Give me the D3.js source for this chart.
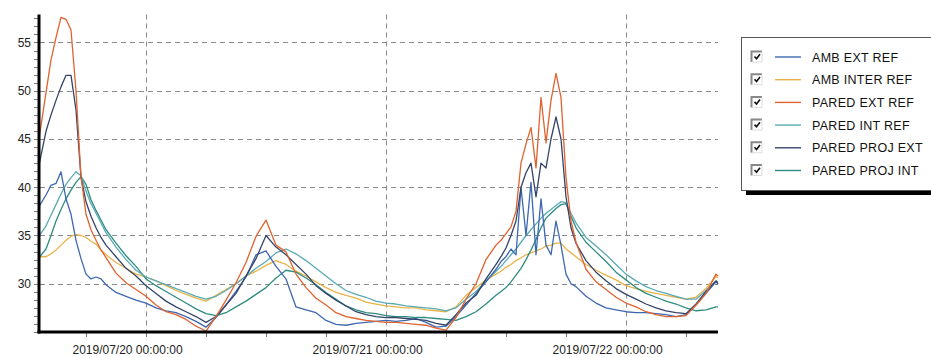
<!DOCTYPE html>
<html><head><meta charset="utf-8">
<script src="https://cdn.jsdelivr.net/npm/d3@7"></script>
<style>
body{margin:0;background:#fff}
svg{display:block}
text{font-family:"Liberation Sans",Arial,sans-serif}
</style>
</head><body>
<svg id="chart" width="931" height="358"></svg>
<script>
// ---- data (hours relative to 2019/07/20 00:00:00) ----
const baseDate = new Date(2019, 6, 20, 0, 0, 0);
const hours = [-10.7,-10,-9.5,-9,-8.5,-8,-7.5,-7,-6.5,-6,-5.5,-5,-4.5,-4,
  -3,-2,-1,0,1,2,3,4,5,6,7,8,9,10,11,12,13,14,15,16,17,18,19,20,21,22,23,24,25,26,27,28,29,30,31,32,33,34,35,
  35.5,36,36.5,37,37.5,38,38.5,39,39.5,40,40.5,41,41.5,42,42.5,43,
  44,45,46,47,48,49,50,51,52,53,54,55,56,57,57.2];

const seriesNames = ["AMB EXT REF","AMB INTER REF","PARED EXT REF","PARED INT REF","PARED PROJ EXT","PARED PROJ INT"];
const seriesColors = ["#3d68b0","#e8b44a","#e0622f","#5aaab4","#34446a","#2e8c80"];

const ambExtRef = [38.0,39.2,40.2,40.4,41.6,38.8,37.2,34.5,32.6,31.0,30.5,30.7,30.5,29.9,
  29.1,28.7,28.3,28.0,27.5,27.2,27.0,26.6,26.1,25.5,26.5,27.8,29.2,30.7,33.0,33.4,31.8,30.5,27.6,27.3,27.0,26.2,25.8,25.7,25.9,26.0,26.1,26.2,26.1,26.2,26.4,26.0,25.5,25.6,26.6,27.8,29.0,30.2,31.5,
  32.3,32.8,33.6,33.0,40.0,35.0,40.5,33.0,38.8,34.0,33.0,36.5,34.0,31.0,30.0,29.7,
  28.7,28.0,27.5,27.3,27.1,27.0,27.0,26.9,26.8,26.6,26.8,27.8,29.0,30.2,30.0];

const ambInterRef = [32.8,32.8,33.1,33.5,34.0,34.5,34.9,35.1,35.0,34.8,34.4,34.1,33.5,33.0,
  32.2,31.6,31.0,30.7,30.3,29.8,29.3,28.9,28.5,28.2,28.8,29.4,30.0,30.8,31.3,31.9,32.4,32.0,31.3,30.8,30.2,29.6,29.1,28.8,28.5,28.1,27.9,27.7,27.6,27.5,27.5,27.3,27.2,27.1,27.6,28.8,29.6,30.4,31.0,
  31.3,31.7,32.0,32.4,32.7,33.0,33.2,33.4,33.6,33.9,34.0,34.2,34.2,33.6,33.2,32.8,
  32.0,31.4,30.9,30.4,29.8,29.5,29.2,29.0,28.8,28.6,28.4,28.6,29.5,30.8,30.6];

const paredExtRef = [45.0,49.8,53.2,55.5,57.6,57.4,56.3,50.0,41.1,37.2,35.6,34.5,33.5,32.7,
  31.1,30.1,29.4,28.7,27.8,27.1,26.8,26.3,25.6,25.1,26.6,28.3,30.1,32.2,34.9,36.6,34.0,33.3,31.0,29.6,28.5,27.8,27.0,26.6,26.4,26.2,26.1,26.0,26.0,25.9,25.8,25.7,25.4,25.2,26.5,28.4,30.0,32.5,34.0,
  34.5,35.2,35.9,37.5,42.5,44.5,46.2,42.0,49.3,44.6,49.0,51.8,49.3,41.0,36.5,34.3,
  31.5,30.2,29.4,28.6,28.0,27.6,27.1,26.8,26.6,26.6,26.7,27.8,29.0,31.0,30.8];

const paredIntRef = [34.9,36.0,37.1,38.2,39.3,40.3,41.0,41.6,41.2,39.6,38.3,37.3,36.3,35.3,
  33.8,32.5,31.4,30.7,30.3,29.9,29.5,29.1,28.7,28.4,28.7,29.3,30.0,30.8,31.6,32.3,33.2,33.6,33.1,32.4,31.6,30.8,30.0,29.3,28.9,28.6,28.2,28.0,27.9,27.7,27.6,27.5,27.4,27.2,27.5,28.4,29.2,30.3,31.3,
  31.8,32.4,33.0,33.6,34.3,35.0,35.6,36.2,36.8,37.3,37.7,38.1,38.5,38.4,37.3,36.3,
  34.8,33.9,33.0,32.0,31.0,30.3,29.7,29.3,29.0,28.7,28.4,28.4,29.3,30.3,30.2];

const paredProjExt = [42.3,45.8,47.5,49.0,50.4,51.6,51.6,48.0,41.0,38.5,37.0,35.8,34.8,34.0,
  32.8,31.6,30.8,29.8,29.0,28.2,27.6,27.1,26.6,26.0,26.6,27.8,29.0,30.8,32.6,35.0,33.8,33.0,32.0,31.0,29.8,29.0,28.3,27.7,27.1,26.8,26.6,26.5,26.5,26.4,26.3,26.2,25.9,25.7,26.8,28.0,28.8,30.5,32.0,
  32.8,33.7,35.0,36.5,40.0,41.5,42.5,39.0,42.5,42.0,45.0,47.3,45.0,39.0,35.8,34.2,
  32.4,31.2,30.3,29.5,28.9,28.4,27.9,27.5,27.2,27.0,26.9,27.9,29.2,30.3,30.0];

const paredProjInt = [32.7,33.6,35.0,36.5,37.7,38.8,39.7,40.5,41.1,40.3,38.7,37.6,36.6,35.6,
  34.2,32.9,31.8,30.5,29.8,29.2,28.6,28.0,27.4,26.9,26.7,27.0,27.6,28.2,28.9,29.6,30.6,31.4,31.2,30.6,29.9,29.1,28.4,27.7,27.3,27.0,26.9,26.7,26.6,26.6,26.5,26.5,26.4,26.3,26.2,26.6,27.1,27.9,28.8,
  29.2,29.6,30.2,30.9,31.6,32.5,33.5,34.6,35.8,36.8,37.3,37.8,38.2,38.3,37.0,35.8,
  34.3,33.3,32.3,31.2,30.4,29.6,29.0,28.6,28.2,27.9,27.5,27.2,27.3,27.6,27.6];

const yTickValues = [30,35,40,45,50,55];
const xTickLabels = ["2019/07/20 00:00:00","2019/07/21 00:00:00","2019/07/22 00:00:00"];
const xTickHours = [0,24,48];

// ---- drawing ----
const seriesValues = [ambExtRef, ambInterRef, paredExtRef, paredIntRef, paredProjExt, paredProjInt];
const toDate = h => new Date(baseDate.getTime() + h * 3600000);

const svg = d3.select("#chart");
const plotL = 39, plotR = 718, plotT = 14.5, plotB = 332;

const x = d3.scaleTime().domain([toDate(-10.7), toDate(57.2)]).range([plotL, plotR]);
const y = d3.scaleLinear().domain([25, 57.9]).range([plotB, plotT]);

const grid = svg.append("g").attr("stroke", "#8a8a8a").attr("stroke-width", 1).attr("stroke-dasharray", "5,4");
yTickValues.forEach(v => {
  grid.append("line").attr("x1", plotL + 1).attr("x2", plotR).attr("y1", Math.round(y(v)) + 0.5).attr("y2", Math.round(y(v)) + 0.5);
});
xTickHours.forEach(h => {
  const px = Math.round(x(toDate(h))) + 0.5;
  grid.append("line").attr("x1", px).attr("x2", px).attr("y1", plotT).attr("y2", plotB - 1);
});

// series
const drawOrder = [1, 5, 3, 0, 4, 2];
const line = d3.line().x((d, i) => x(toDate(hours[i]))).y(d => y(d));
drawOrder.forEach(si => {
  svg.append("path").datum(seriesValues[si])
    .attr("fill", "none").attr("stroke", seriesColors[si]).attr("stroke-width", 1.3)
    .attr("stroke-linejoin", "round").attr("d", line);
});

// y axis
const yAxis = d3.axisLeft(y).tickValues(yTickValues).tickSize(0).tickPadding(6).tickFormat(d3.format("d"));
const yg = svg.append("g").attr("transform", `translate(${plotL - 2},0)`).call(yAxis);
yg.select(".domain").remove();
yg.selectAll("text").attr("font-size", 12).attr("fill", "#222").attr("font-family", "'Liberation Sans',Arial,sans-serif");
const minorY = d3.range(25, 57.95, 5 / 6);
svg.append("g").selectAll("line").data(minorY).join("line")
  .attr("x1", plotL - 5).attr("x2", plotL - 1)
  .attr("y1", d => Math.round(y(d)) + 0.5).attr("y2", d => Math.round(y(d)) + 0.5)
  .attr("stroke", "#777").attr("stroke-width", 1);

// x axis
const xTicks = x.ticks(d3.timeHour.every(6)).filter(d => d >= x.domain()[0] && d <= x.domain()[1]);
svg.append("g").selectAll("line").data(xTicks).join("line")
  .attr("x1", d => Math.round(x(d)) + 0.5).attr("x2", d => Math.round(x(d)) + 0.5)
  .attr("y1", plotB + 1).attr("y2", plotB + 5).attr("stroke", "#777");
const xAxis = d3.axisBottom(x).tickValues(xTickHours.map(toDate)).tickSize(0).tickPadding(0)
  .tickFormat((d, i) => xTickLabels[i]);
const xg = svg.append("g").attr("transform", `translate(0,${plotB + 13})`).call(xAxis);
xg.select(".domain").remove();
xg.selectAll("text").attr("font-size", 12).attr("fill", "#222").attr("font-family", "'Liberation Sans',Arial,sans-serif").attr("dx", -19);

// axis lines
svg.append("line").attr("x1", plotL).attr("x2", plotL).attr("y1", plotT).attr("y2", plotB + 1.5)
  .attr("stroke", "#000").attr("stroke-width", 3);
svg.append("line").attr("x1", plotL - 1.5).attr("x2", plotR).attr("y1", plotB).attr("y2", plotB)
  .attr("stroke", "#000").attr("stroke-width", 3);

// legend
const lg = svg.append("g");
lg.append("rect").attr("x", 746).attr("y", 42).attr("width", 200).attr("height", 153).attr("fill", "#000");
lg.append("rect").attr("x", 741.5).attr("y", 37.5).attr("width", 200).attr("height", 153)
  .attr("fill", "#fff").attr("stroke", "#555").attr("stroke-width", 1);
const rowY = i => 57 + i * 22.7;
seriesNames.forEach((name, i) => {
  const cy = rowY(i);
  const g = lg.append("g");
  g.append("rect").attr("x", 751).attr("y", cy - 6).attr("width", 11).attr("height", 11).attr("fill", "#fff");
  g.append("path").attr("d", `M751.5,${cy + 5}V${cy - 5.5}H762`).attr("fill", "none").attr("stroke", "#888").attr("stroke-width", 2);
  g.append("path").attr("d", `M762,${cy - 5.5}V${cy + 5}H751.5`).attr("fill", "none").attr("stroke", "#ddd").attr("stroke-width", 1);
  g.append("path").attr("d", `M754.5,${cy - 0.5}l2,2.2l3.5,-4.5`).attr("fill", "none").attr("stroke", "#111").attr("stroke-width", 1.6);
  g.append("line").attr("x1", 775).attr("x2", 801).attr("y1", cy).attr("y2", cy)
    .attr("stroke", seriesColors[i]).attr("stroke-width", 1.4);
  g.append("text").attr("x", 812).attr("y", cy).attr("dy", "0.36em").attr("font-size", 12.5)
    .attr("letter-spacing", "0.3px").attr("fill", "#111").text(name);
});
</script>
</body></html>
